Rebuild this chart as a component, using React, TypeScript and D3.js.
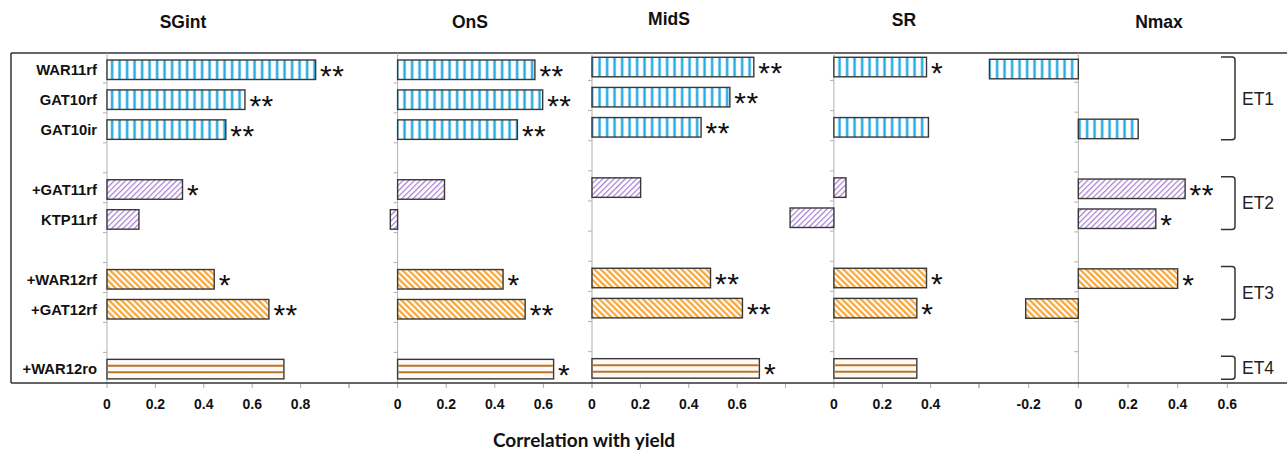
import React from "react"
import { scaleBand, scaleLinear, range } from "d3"

// rows, top to bottom
const rowLabels = ["WAR11rf", "GAT10rf", "GAT10ir", "+GAT11rf", "KTP11rf", "+WAR12rf", "+GAT12rf", "+WAR12ro"]
const rowGroups = ["ET1", "ET1", "ET1", "ET2", "ET2", "ET3", "ET3", "ET4"]

// correlation with yield, one list per trait (null = no bar)
const sgintValues = [0.862, 0.57, 0.491, 0.312, 0.132, 0.443, 0.669, 0.731]
const onsValues = [0.565, 0.597, 0.493, 0.193, -0.03, 0.434, 0.525, 0.642]
const midsValues = [0.669, 0.57, 0.451, 0.201, null, 0.49, 0.622, 0.692]
const srValues = [0.383, null, 0.391, 0.05, -0.181, 0.383, 0.343, 0.343]
const nmaxValues = [-0.358, null, 0.241, 0.43, 0.312, 0.4, -0.212, null]

// significance marks
const sgintStars = ["**", "**", "**", "*", "", "*", "**", ""]
const onsStars = ["**", "**", "**", "", "", "*", "**", "*"]
const midsStars = ["**", "**", "**", "", "", "**", "**", "*"]
const srStars = ["*", "", "", "", "", "*", "*", ""]
const nmaxStars = ["", "", "", "**", "*", "*", "", ""]

const traitNames = ["SGint", "OnS", "MidS", "SR", "Nmax"]

const FONT = "'Liberation Sans', Arial, Helvetica, sans-serif"

// layout of the five small panels
const panels = [
  { name: traitNames[0], values: sgintValues, stars: sgintStars, domain: [0, 1.0], xr: [107, 349], yr: [53, 382.3], labels: [0, 0.2, 0.4, 0.6, 0.8], marks: [0, 0.2, 0.4, 0.6, 0.8, 1.0], titleX: 183, titleY: 27.5 },
  { name: traitNames[1], values: onsValues, stars: onsStars, domain: [-0.2, 0.8], xr: [349, 592], yr: [53, 382.3], labels: [0, 0.2, 0.4, 0.6], marks: [-0.2, 0, 0.2, 0.4, 0.6, 0.8], titleX: 470, titleY: 27.5 },
  { name: traitNames[2], values: midsValues, stars: midsStars, domain: [0, 0.8], xr: [592, 785.5], yr: [50.3, 381.8], labels: [0, 0.2, 0.4, 0.6], marks: [0, 0.2, 0.4, 0.6, 0.8], titleX: 669, titleY: 25 },
  { name: traitNames[3], values: srValues, stars: srStars, domain: [-0.2, 0.6], xr: [785.5, 979], yr: [50.3, 381.8], labels: [0, 0.2, 0.4], marks: [0, 0.2, 0.4, 0.6], titleX: 904, titleY: 25.5 },
  { name: traitNames[4], values: nmaxValues, stars: nmaxStars, domain: [-0.4, 0.8], xr: [979, 1277], yr: [52.3, 381.6], labels: [-0.2, 0, 0.2, 0.4, 0.6], marks: [-0.4, -0.2, 0, 0.2, 0.4, 0.6], titleX: 1159, titleY: 27.5 },
]

// slot keys with an empty slot between groups
const slots: string[] = []
rowLabels.forEach((r, i) => {
  if (i > 0 && rowGroups[i] !== rowGroups[i - 1]) slots.push("gap" + i)
  slots.push(r)
})

const fills: Record<string, string> = {
  ET1: "url(#pBlue)",
  ET2: "url(#pPurple)",
  ET3: "url(#pOrange)",
  ET4: "#fffaf4",
}

const BOX = { left: 11, right: 1287, top: 53, bottom: 383 }
const BAR_OFF = 7
const BAR_H = 19.5

const App = () => {
  const yMain = scaleBand<string>().domain(slots).range([BOX.top, 382.3])
  const groupNames = Array.from(new Set(rowGroups))

  return (
    <svg width={1287} height={452} style={{ position: "absolute", left: 0, top: 0, background: "#fff" }} fontFamily={FONT}>
      <defs>
        <pattern id="pBlue" patternUnits="userSpaceOnUse" width={7.5} height={10} x={3}>
          <rect width={7.5} height={10} fill="#fff" />
          <rect x={2.5} width={3.2} height={10} fill="#b5e1f5" />
          <rect x={3.1} width={2} height={10} fill="#1ea6e0" />
        </pattern>
        <pattern id="pPurple" patternUnits="userSpaceOnUse" width={4} height={10} patternTransform="rotate(45)">
          <rect width={4} height={10} fill="#fff" />
          <rect x={0} width={1.2} height={10} fill="#a77cd0" />
        </pattern>
        <pattern id="pOrange" patternUnits="userSpaceOnUse" width={4.4} height={10} patternTransform="rotate(-45)">
          <rect width={4.4} height={10} fill="#fff" />
          <rect x={0} width={2.3} height={10} fill="#f8a83a" />
        </pattern>
      </defs>

      {/* frame */}
      <line x1={BOX.left} x2={BOX.right} y1={BOX.top} y2={BOX.top} stroke="#333" strokeWidth={1.5} />
      <line x1={BOX.left} x2={BOX.left} y1={BOX.top} y2={BOX.bottom} stroke="#333" strokeWidth={1.5} />

      {panels.map((p) => {
        const x = scaleLinear().domain(p.domain).range(p.xr)
        const y = scaleBand<string>().domain(slots).range(p.yr as [number, number])
        const x0 = x(0)
        return (
          <g key={p.name}>
            {/* zero line with category ticks */}
            <line x1={x0} x2={x0} y1={BOX.top} y2={BOX.bottom} stroke="#b0b0b0" strokeWidth={1} />
            {range(1, slots.length).map((i) => {
              const yy = y(slots[i]) ?? 0
              return <line key={i} x1={x0 - 4} x2={x0} y1={yy} y2={yy} stroke="#b0b0b0" strokeWidth={1} />
            })}
            {/* bottom ticks */}
            {p.marks.map((t) => (
              <line key={"m" + t} x1={x(t)} x2={x(t)} y1={BOX.bottom} y2={BOX.bottom + 5} stroke="#aaa" strokeWidth={1} />
            ))}
            {p.labels.map((t) => (
              <text key={"l" + t} x={x(t)} y={409} textAnchor="middle" fontSize={14} fontWeight="bold" fill="#111">
                {t === 0 ? "0" : t.toFixed(1)}
              </text>
            ))}
            {/* title */}
            <text x={p.titleX} y={p.titleY} textAnchor="middle" fontSize={17.5} fontWeight="bold" fill="#111">
              {p.name}
            </text>
            {/* bars */}
            {rowLabels.map((r, i) => {
              const v = p.values[i]
              if (v === null || v === undefined) return null
              const top = (y(r) ?? 0) + BAR_OFF
              const xs = Math.min(x0, x(v))
              const w = Math.abs(x(v) - x0)
              const grp = rowGroups[i]
              const star = p.stars[i]
              return (
                <g key={r}>
                  <rect x={xs} y={top} width={w} height={BAR_H} fill={fills[grp]} stroke="#383838" strokeWidth={1.4} />
                  {grp === "ET4" && (
                    <g stroke="#b8732f" strokeWidth={2}>
                      <line x1={xs + 0.7} x2={xs + w - 0.7} y1={top + BAR_H / 3} y2={top + BAR_H / 3} />
                      <line x1={xs + 0.7} x2={xs + w - 0.7} y1={top + (2 * BAR_H) / 3} y2={top + (2 * BAR_H) / 3} />
                    </g>
                  )}
                  {star && (
                    <text x={x(v) + 4.5} y={top + BAR_H / 2 + 16} fontSize={30} letterSpacing={0.5} fill="#111">
                      {star}
                    </text>
                  )}
                </g>
              )
            })}
          </g>
        )
      })}

      {/* bottom axis line */}
      <line x1={BOX.left} x2={BOX.right} y1={BOX.bottom} y2={BOX.bottom} stroke="#333" strokeWidth={1.5} />

      {/* row labels */}
      {rowLabels.map((r) => (
        <text key={r} x={97} y={(yMain(r) ?? 0) + BAR_OFF + BAR_H / 2 + 5.3} textAnchor="end" fontSize={14.8} fontWeight="bold" fill="#111">
          {r}
        </text>
      ))}

      {/* group brackets */}
      {groupNames.map((g) => {
        const rows = rowLabels.filter((_, i) => rowGroups[i] === g)
        const y0 = (yMain(rows[0]) ?? 0) + 4
        const y1 = (yMain(rows[rows.length - 1]) ?? 0) + yMain.bandwidth() - 3
        const bx = 1235
        return (
          <g key={g}>
            <path
              d={`M${bx - 14},${y0} H${bx - 3} Q${bx},${y0} ${bx},${y0 + 3} V${y1 - 3} Q${bx},${y1} ${bx - 3},${y1} H${bx - 14}`}
              fill="none"
              stroke="#333"
              strokeWidth={1.5}
            />
            <text x={1242} y={(y0 + y1) / 2 + 6.3} fontSize={17.5} fill="#222">
              {g}
            </text>
          </g>
        )
      })}

      {/* axis title */}
      <text x={493} y={447} fontSize={19} fontWeight="bold" fill="#111" fontFamily="Lato, 'Open Sans', sans-serif">
        Correlation with yield
      </text>
    </svg>
  )
}

export default App
